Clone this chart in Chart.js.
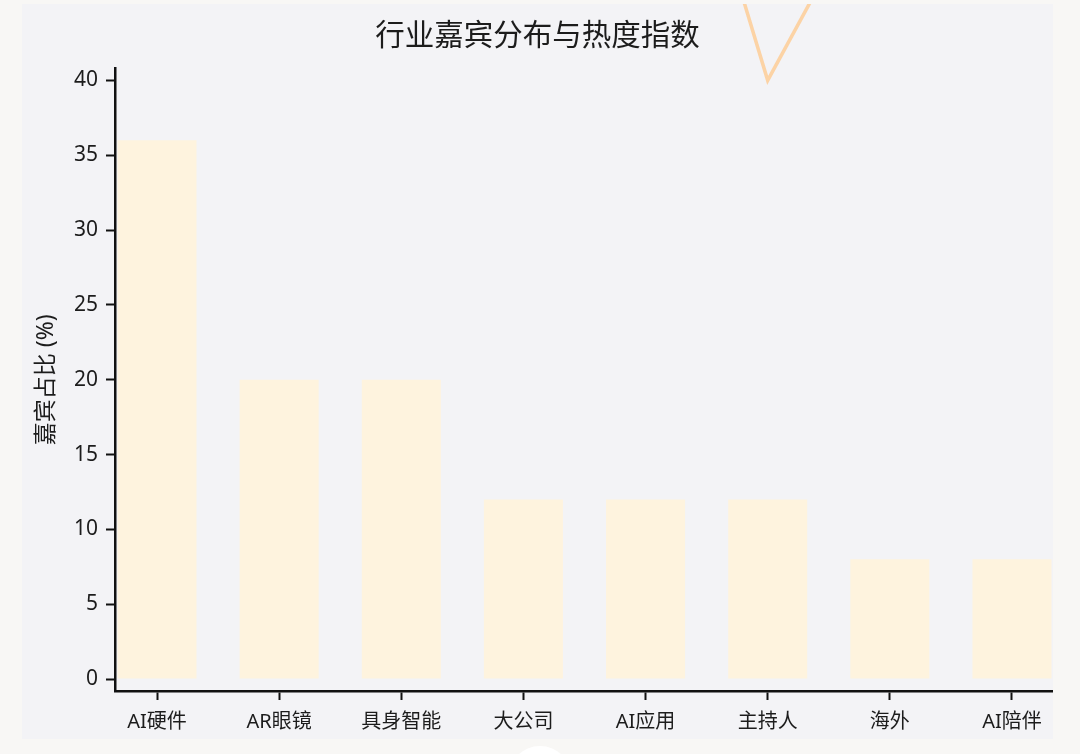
<!DOCTYPE html>
<html><head><meta charset="utf-8">
<script src="https://cdn.jsdelivr.net/npm/chart.js@4"></script>
<style>
html,body{margin:0;padding:0;width:1080px;height:754px;background:#f8f7f5;overflow:hidden}
#panel{position:absolute;left:22px;top:4px;width:1031px;height:735px;background:#f3f3f6;overflow:hidden}
#c{display:block;width:1031px;height:735px}
#knob{position:absolute;left:508px;top:746px;width:64px;height:64px;border-radius:50%;background:#ffffff}
</style></head><body>
<div id="panel"><canvas id="c" width="1031" height="735"></canvas></div>
<div id="knob"></div>
<script>
const categories = ['AI硬件', 'AR眼镜', '具身智能', '大公司', 'AI应用', '主持人', '海外', 'AI陪伴'];
const guestShare = [36, 20, 20, 12, 12, 12, 8, 8];
const heatIndex = [92, 85, 88, 78, 67, 40, 55, 72];
const yTicks = [0, 5, 10, 15, 20, 25, 30, 35, 40];

const F = '"Noto Sans", "Noto Sans CJK SC", sans-serif';
const TXT = '#1c1c1c';
const AX = '#111111';

const barData = categories.map((c, i) => ({ x: i, y: guestShare[i] }));
const lineData = categories.map((c, i) => ({ x: i, y: heatIndex[i] }));

new Chart(document.getElementById('c'), {
  data: {
    datasets: [
      {
        type: 'line', label: '热度指数', data: lineData,
        borderColor: 'rgba(253, 205, 150, 0.85)', borderWidth: 3.5,
        pointRadius: 0, tension: 0, clip: false, fill: false, order: 0
      },
      {
        type: 'bar', label: '嘉宾占比', data: barData,
        backgroundColor: '#fef3de', borderWidth: 0,
        categoryPercentage: 1, barPercentage: 0.647, order: 1
      }
    ]
  },
  options: {
    responsive: false, animation: false,
    layout: { padding: { left: 0, right: 0, top: 0, bottom: 0 } },
    plugins: {
      legend: { display: false },
      tooltip: { enabled: false },
      title: {
        display: true, text: '行业嘉宾分布与热度指数', color: TXT,
        font: { family: '"Noto Sans CJK SC", sans-serif', size: 29.5, weight: 'normal', lineHeight: 1.2 },
        padding: { top: 12, bottom: 17 }
      }
    },
    scales: {
      x: {
        type: 'linear', min: -0.344, max: 7.336, offset: false,
        afterBuildTicks: s => { s.ticks = categories.map((c, i) => ({ value: i })); },
        afterFit: s => { s.height = 48; },
        ticks: {
          callback: v => categories[v], color: TXT,
          font: { family: F, size: 20 }, padding: 10, maxRotation: 0, autoSkip: false
        },
        grid: { offset: false, drawOnChartArea: false, drawTicks: true, tickLength: 9, tickWidth: 2, tickColor: AX },
        border: { display: true, color: AX, width: 2.5 }
      },
      y: {
        min: -0.8, max: 40.8,
        afterBuildTicks: s => { s.ticks = yTicks.map(v => ({ value: v })); },
        afterFit: s => { s.width = 93; },
        ticks: { color: TXT, font: { family: F, size: 21 }, padding: 8 },
        grid: { drawOnChartArea: false, drawTicks: true, tickLength: 9, tickWidth: 2, tickColor: AX },
        border: { display: true, color: AX, width: 2.5 },
        title: {
          display: true, text: '嘉宾占比 (%)', color: TXT,
          font: { family: F, size: 23 }, padding: { top: 11, bottom: 0 }
        }
      }
    }
  }
});
</script>
</body></html>
